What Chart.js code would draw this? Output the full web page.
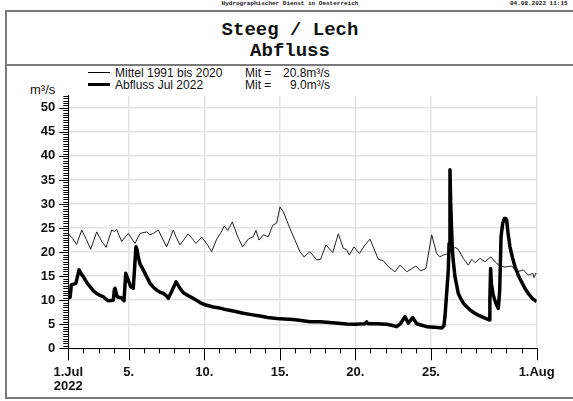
<!DOCTYPE html>
<html>
<head>
<meta charset="utf-8">
<script src="https://cdn.jsdelivr.net/npm/chart.js@4"></script>
<style>
  html, body { margin: 0; padding: 0; background: #fff; width: 573px; height: 401px; overflow: hidden; }
  #wrap { position: relative; width: 573px; height: 401px; }
  #cv { position: absolute; left: 0; top: 0; }
  .t { position: absolute; white-space: pre; color: #111; }
  .sans { font-family: "Liberation Sans", Arial, sans-serif; }
  .mono { font-family: "Liberation Mono", "DejaVu Sans Mono", monospace; font-weight: bold; }
  .frame { position: absolute; left: 5px; top: 10px; width: 600px; height: 385px; border: 2px solid #7a7a7a; }
  .sep { position: absolute; left: 5px; top: 64px; width: 600px; border-top: 2px solid #7a7a7a; }
  .lg { position: absolute; left: 88px; width: 22px; background: #000; }
</style>
</head>
<body>
<div id="wrap">
  <div class="frame"></div>
  <div class="sep"></div>
  <div class="t mono" style="left:0;width:580px;text-align:center;top:0;font-size:6px;line-height:7px;">Hydrographischer Dienst in Oesterreich</div>
  <div class="t mono" style="left:510px;top:0;font-size:6px;line-height:7px;">04.08.2022 11:15</div>
  <div class="t mono" style="left:0;width:580px;text-align:center;top:19px;font-size:19px;line-height:22px;">Steeg / Lech</div>
  <div class="t mono" style="left:0;width:580px;text-align:center;top:40px;font-size:19px;line-height:22px;">Abfluss</div>

  <div class="lg" style="top:72px;height:1px;"></div>
  <div class="lg" style="top:83px;height:3px;"></div>
  <div class="t sans" style="left:115px;top:66px;font-size:12px;line-height:14px;">Mittel 1991 bis 2020</div>
  <div class="t sans" style="left:115px;top:78px;font-size:12px;line-height:14px;">Abfluss Jul 2022</div>
  <div class="t sans" style="left:245px;top:66px;font-size:12px;line-height:14px;">Mit =</div>
  <div class="t sans" style="left:245px;top:78px;font-size:12px;line-height:14px;">Mit =</div>
  <div class="t sans" style="left:283px;top:66px;font-size:12px;line-height:14px;">20.8m³/s</div>
  <div class="t sans" style="left:290px;top:78px;font-size:12px;line-height:14px;">9.0m³/s</div>
  <div class="t sans" style="left:30px;top:82px;font-size:13px;line-height:15px;">m³/s</div>

  <canvas id="cv" width="573" height="401"></canvas>
</div>
<script>
// Zeit in Tagen ab 1. Juli 00:00, Abfluss in m³/s
const mittelTag = [0, 0.3, 0.55, 0.89, 1.2, 1.48, 1.88, 2.2, 2.5, 2.87, 3.05, 3.2, 3.53, 3.97, 4.2, 4.41, 4.75, 5.19, 5.4, 5.63,
  5.96, 6.2, 6.51, 6.95, 7.15, 7.39, 7.94, 8.2, 8.45, 8.83, 9.15, 9.49, 9.82, 10.09, 10.32, 10.55, 10.85, 11.25, 11.54, 11.91,
  12.24, 12.42, 12.62, 12.91, 13.24, 13.53, 13.79, 14.01, 14.23, 14.67, 15.0, 15.33, 15.6, 15.99, 16.44, 16.7, 17.05, 17.5, 17.87, 18.2,
  18.42, 18.6, 18.91, 19.26, 19.64, 19.97, 20.52, 20.85, 21.18, 21.62, 21.95, 22.4, 23.01, 23.32, 23.67, 24.05, 24.38, 24.6, 24.82, 25.04,
  25.3, 25.59, 25.8, 26.14, 26.47, 26.7, 26.92, 27.25, 27.58, 27.96, 28.24, 28.57, 28.9, 29.35, 29.68, 30.12, 30.45, 30.74, 30.82, 30.95, 31.0];
const mittelQ = [23.8, 22.8, 21.6, 24.6, 22.6, 20.6, 24.2, 22.3, 21.0, 24.6, 24.3, 24.7, 22.2, 23.9, 22.8, 21.8, 23.9, 24.2, 23.6, 23.9,
  24.6, 23.0, 21.1, 24.6, 23.0, 21.5, 23.8, 22.8, 21.8, 23.1, 21.8, 20.1, 22.7, 24.0, 25.4, 24.5, 26.3, 22.9, 21.1, 22.7,
  23.2, 24.5, 22.5, 23.6, 23.2, 25.6, 26.0, 29.4, 28.4, 24.9, 22.5, 20.1, 19.0, 20.1, 18.4, 18.5, 21.5, 19.9, 23.8, 20.8,
  20.5, 19.4, 21.1, 19.7, 21.5, 22.7, 18.5, 18.2, 17.0, 15.9, 17.3, 15.9, 17.1, 16.1, 16.6, 23.6, 19.7, 19.0, 19.4, 19.6,
  20.0, 21.0, 20.6, 18.7, 17.3, 18.5, 17.8, 18.7, 18.0, 19.0, 18.0, 17.1, 16.9, 17.1, 15.9, 16.3, 15.2, 15.6, 14.7, 15.6, 15.4];

const abflussTag = [0, 0.12, 0.2, 0.5, 0.71, 0.85, 0.99, 1.2, 1.44, 1.65, 1.88, 2.1, 2.32, 2.5, 2.65, 2.98, 3.05, 3.09, 3.24, 3.5,
  3.69, 3.8, 3.97, 4.13, 4.3, 4.48, 4.55, 4.63, 4.75, 4.96, 5.2, 5.41, 5.6, 5.85, 6.05, 6.29, 6.5, 6.62, 6.84, 7.13,
  7.25, 7.39, 7.6, 7.84, 8.2, 8.72, 9.1, 9.6, 10.0, 10.48, 11.0, 11.58, 12.1, 12.69, 13.2, 13.79, 14.3, 14.89, 15.4, 16.0,
  16.66, 17.5, 18.42, 19.0, 19.63, 19.74, 19.85, 20.4, 21.07, 21.4, 21.73, 22.0, 22.28, 22.5, 22.79, 23.06, 23.4, 23.72, 24.2, 24.71,
  24.86, 24.93, 25.04, 25.15, 25.2, 25.26, 25.31, 25.36, 25.42, 25.47, 25.59, 25.7, 25.81, 26.03, 26.14, 26.35, 26.58, 26.85, 27.13, 27.5,
  27.86, 27.9, 27.95, 28.0, 28.12, 28.3, 28.46, 28.55, 28.64, 28.75, 28.86, 28.95, 29.01, 29.1, 29.23, 29.4, 29.56, 29.78, 30.0, 30.2,
  30.44, 30.7, 31.0];
const abflussQ = [10.4, 10.6, 13.2, 13.5, 16.3, 15.5, 14.9, 13.8, 12.8, 12.0, 11.4, 11.0, 10.7, 10.2, 9.9, 10.0, 12.3, 12.5, 10.7, 10.5,
  9.9, 15.6, 14.2, 12.8, 12.5, 21.1, 20.5, 19.0, 17.5, 16.3, 14.8, 13.5, 12.8, 12.1, 11.7, 11.4, 10.9, 10.4, 11.8, 13.8,
  13.2, 12.5, 11.6, 11.1, 10.5, 9.5, 9.0, 8.6, 8.4, 8.0, 7.7, 7.3, 7.0, 6.7, 6.4, 6.2, 6.1, 6.0, 5.8, 5.5,
  5.5, 5.3, 5.05, 5.0, 5.1, 5.5, 5.1, 5.1, 5.0, 4.8, 4.5, 5.2, 6.6, 5.2, 6.4, 5.1, 4.8, 4.5, 4.4, 4.2,
  4.7, 6.6, 11.4, 16.3, 21.8, 37.1, 30.0, 25.3, 20.5, 18.4, 14.9, 13.2, 11.4, 10.0, 9.4, 8.7, 8.0, 7.4, 6.9, 6.4,
  5.9, 10.0, 16.6, 13.5, 11.1, 9.3, 8.3, 12.0, 23.2, 26.0, 27.0, 27.0, 26.7, 24.0, 21.1, 18.8, 17.0, 15.2, 13.8, 12.6,
  11.4, 10.4, 9.7];

const xTickTage = [0, 4, 9, 14, 19, 24, 31];
const xTickLabels = [['1.Jul', '2022'], '5.', '10.', '15.', '20.', '25.', '1.Aug'];
const yTicks = [0, 5, 10, 15, 20, 25, 30, 35, 40, 45, 50];

const pts = (xs, ys) => xs.map((x, i) => ({ x, y: ys[i] }));
const tickFont = { family: '"Liberation Sans", Arial, sans-serif', size: 13, weight: 'bold', lineHeight: 1.08 };

// kleine Striche an beiden Achsen (Tag / 0.5 m³/s)
const achsenStriche = {
  id: 'achsenStriche',
  afterDraw(chart) {
    const { ctx, scales: { x, y } } = chart;
    ctx.save();
    ctx.strokeStyle = '#000';
    ctx.lineWidth = 1;
    ctx.beginPath();
    for (let d = 0; d <= 31; d++) {
      const px = Math.round(x.getPixelForValue(d)) + 0.5;
      const len = xTickTage.includes(d) ? 12 : 5;
      ctx.moveTo(px, y.bottom);
      ctx.lineTo(px, y.bottom + len);
    }
    for (let v = 0; v <= 52.5; v += 0.5) {
      const py = Math.round(y.getPixelForValue(v)) + 0.5;
      const len = v % 5 === 0 ? 9 : 5;
      ctx.moveTo(x.left, py);
      ctx.lineTo(x.left - len, py);
    }
    ctx.stroke();
    ctx.restore();
  }
};

new Chart(document.getElementById('cv'), {
  type: 'line',
  data: {
    datasets: [
      { label: 'Mittel 1991 bis 2020', data: pts(mittelTag, mittelQ), borderColor: '#222', borderWidth: 1, pointRadius: 0, tension: 0, order: 2 },
      { label: 'Abfluss Jul 2022', data: pts(abflussTag, abflussQ), borderColor: '#000', borderWidth: 3.5, pointRadius: 0, tension: 0, borderJoinStyle: 'round', order: 1 },
    ],
  },
  options: {
    responsive: false, animation: false, devicePixelRatio: 1,
    layout: { padding: { left: 0, right: 36.3, top: 95.8, bottom: 0 } },
    plugins: { legend: { display: false }, tooltip: { enabled: false } },
    scales: {
      x: {
        type: 'linear', min: 0, max: 31,
        afterBuildTicks: (s) => { s.ticks = xTickTage.map((v) => ({ value: v })); },
        afterFit: (s) => { s.height = 401 - 348.3; },
        grid: { color: '#e3e3e3', lineWidth: 1.5, drawTicks: false },
        border: { color: '#000', width: 1 },
        ticks: { autoSkip: false, maxRotation: 0, padding: 17, color: '#111', font: tickFont,
          callback: (v, i) => xTickLabels[i] },
      },
      y: {
        min: 0, max: 52.5,
        afterBuildTicks: (s) => { s.ticks = yTicks.map((v) => ({ value: v })); },
        afterFit: (s) => { s.width = 68.3; },
        grid: { color: '#e3e3e3', lineWidth: 1.5, drawTicks: false },
        border: { color: '#000', width: 1 },
        ticks: { padding: 13, color: '#111', font: tickFont },
      },
    },
  },
  plugins: [achsenStriche],
});
</script>
</body>
</html>
